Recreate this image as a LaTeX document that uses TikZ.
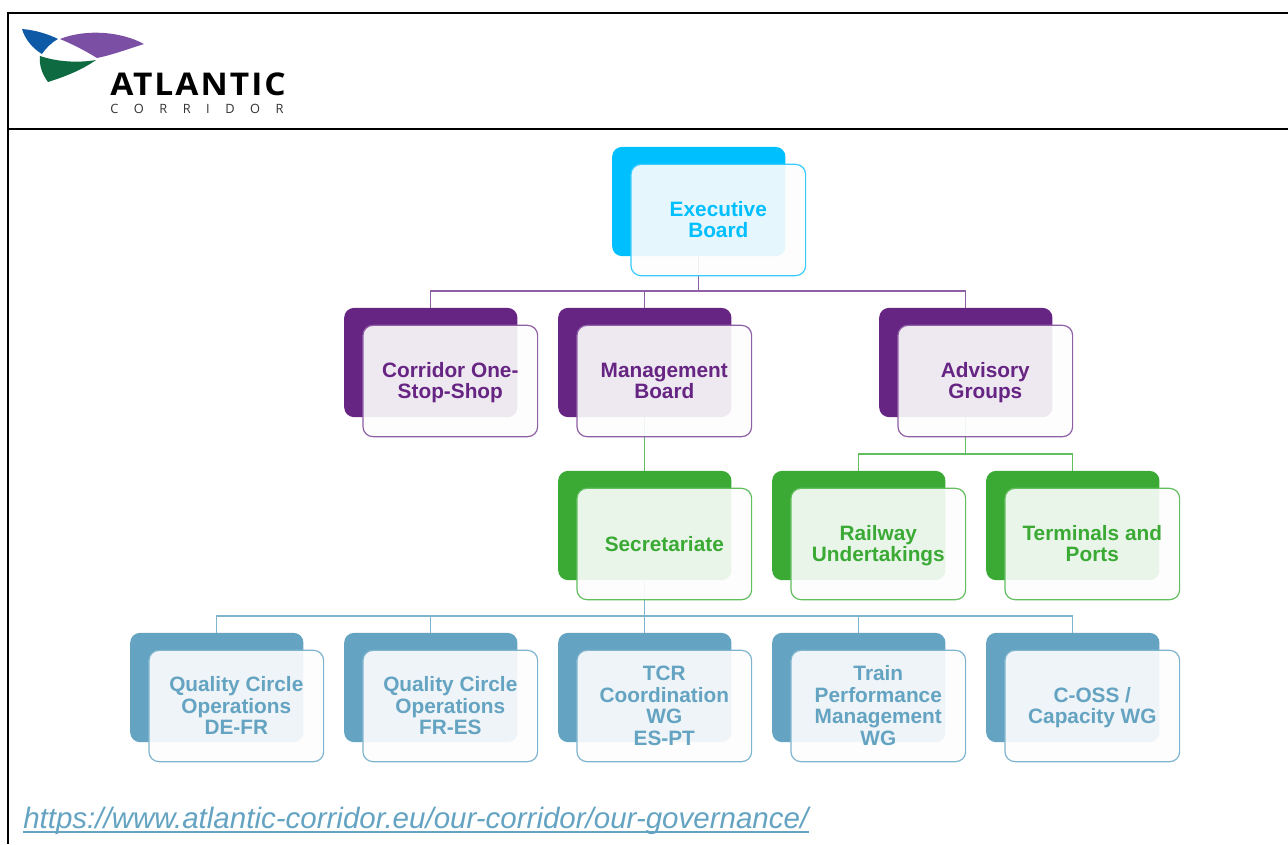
\documentclass[tikz,border=0pt]{standalone}
\usepackage{fontspec}
\setmainfont{Liberation Sans}
\newfontfamily\logofont{Open Sans}
\definecolor{cexec}{HTML}{00BFFF}
\definecolor{cpur}{HTML}{662483}
\definecolor{cgrn}{HTML}{3AAA35}
\definecolor{cblu}{HTML}{64A3C1}
\definecolor{lcexec}{HTML}{38CBFF}
\definecolor{lcpur}{HTML}{8F5FA6}
\definecolor{lcgrn}{HTML}{62BE5E}
\definecolor{lcblu}{HTML}{7FB4CF}
\definecolor{logoblue}{HTML}{0F5AA6}
\definecolor{logopur}{HTML}{7B4FA3}
\definecolor{logogrn}{HTML}{0E6A40}
\definecolor{paneltint}{HTML}{FDFDFD}
\tikzset{
  backbox/.style={fill=#1,draw=none,rounded corners=7.5pt,minimum width=130pt,minimum height=82pt,inner sep=0pt,outer sep=0pt},
  frontbox/.style={draw=l#1,fill=paneltint,fill opacity=.905,draw opacity=1,text opacity=1,text=#1,line width=.9pt,
    rounded corners=7.5pt,minimum width=131pt,minimum height=83.5pt,inner sep=0pt,outer sep=0pt,
    font=\bfseries\fontsize{15.6}{16.4}\selectfont,align=center},
  link/.style={draw=#1,line width=1pt},
  tableline/.style={draw=black,line width=1.1pt},
}
\newcommand{\backat}[4]{\node[backbox=#4] (#1B) at (#2+86.8,#3+54.5) {};}
\newcommand{\frontat}[5]{\node[frontbox=#4] (#1F) at (#2+106.3,#3+73) {\rule{0pt}{15.4pt}#5\strut};}
\begin{document}
\begin{tikzpicture}[x=.75pt,y=-.75pt]
\useasboundingbox (0,0) rectangle (1288,844);
% table frame
\draw[tableline] (1288,13) -- (8,13) -- (8,844);
\draw[tableline] (8,129) -- (1288,129);
% logo
\fill[logoblue] (22,29) .. controls (35,30) and (48,34) .. (58,39) .. controls (51,43) and (46,48) .. (42,54) .. controls (32,48) and (25,39) .. (22,29) -- cycle;
\fill[logopur] (60,39) .. controls (85,29) and (120,31) .. (144,44) .. controls (128,49) and (112,55) .. (97,58) .. controls (84,50) and (72,44) .. (60,39) -- cycle;
\fill[logogrn] (40,56) .. controls (58,62) and (78,63) .. (96,60) .. controls (82,70) and (64,77) .. (48,82) .. controls (42,74) and (39,65) .. (40,56) -- cycle;
\node[inner sep=0pt,anchor=base west] (logoname) at (110,95) {\scalebox{1.07}[1]{\logofont\bfseries\fontsize{23.5}{24}\selectfont\addfontfeature{LetterSpace=6}ATLANTIC}};
\node[inner sep=0pt,anchor=base west] (logosub) at (110,113) {\logofont\fontsize{9.6}{10}\selectfont\color{black!80}\makebox[130pt][s]{C\hfill O\hfill R\hfill R\hfill I\hfill D\hfill O\hfill R}};
% back boxes
\backat{exec}{612}{147}{cexec}
\backat{cs}{344}{308}{cpur}
\backat{mb}{558}{308}{cpur}
\backat{adv}{879}{308}{cpur}
\backat{sec}{558}{471}{cgrn}
\backat{ru}{772}{471}{cgrn}
\backat{tp}{986}{471}{cgrn}
\backat{qa}{130}{633}{cblu}
\backat{qb}{344}{633}{cblu}
\backat{tcr}{558}{633}{cblu}
\backat{tpm}{772}{633}{cblu}
\backat{cap}{986}{633}{cblu}
% connectors
\coordinate (busa) at (execB.south |- 0,291);
\coordinate (busb) at (advB.south |- 0,454);
\coordinate (busc) at (secB.south |- 0,616);
\draw[link=lcpur] (execB.south) -- (busa);
\draw[link=lcpur] (csB.north) |- (busa) -| (advB.north);
\draw[link=lcpur] (mbB.north) -- (mbB.north |- busa);
\draw[link=lcgrn] (mbB.south) -- (secB.north);
\draw[link=lcgrn] (advB.south) -- (busb);
\draw[link=lcgrn] (ruB.north) |- (busb) -| (tpB.north);
\draw[link=lcblu] (secB.south) -- (busc);
\draw[link=lcblu] (qaB.north) |- (busc) -| (capB.north);
\draw[link=lcblu] (qbB.north) -- (qbB.north |- busc);
\draw[link=lcblu] (tcrB.north) -- (tcrB.north |- busc);
\draw[link=lcblu] (tpmB.north) -- (tpmB.north |- busc);
% front boxes
\frontat{exec}{612}{147}{cexec}{Executive\\Board}
\frontat{cs}{344}{308}{cpur}{Corridor One-\\Stop-Shop}
\frontat{mb}{558}{308}{cpur}{Management\\Board}
\frontat{adv}{879}{308}{cpur}{Advisory\\Groups}
\frontat{sec}{558}{471}{cgrn}{Secretariate}
\frontat{ru}{772}{471}{cgrn}{Railway\\Undertakings}
\frontat{tp}{986}{471}{cgrn}{Terminals and\\Ports}
\frontat{qa}{130}{633}{cblu}{Quality Circle\\Operations\\DE-FR}
\frontat{qb}{344}{633}{cblu}{Quality Circle\\Operations\\FR-ES}
\frontat{tcr}{558}{633}{cblu}{TCR\\Coordination\\WG\\ES-PT}
\frontat{tpm}{772}{633}{cblu}{Train\\Performance\\Management\\WG}
\frontat{cap}{986}{633}{cblu}{C-OSS /\\Capacity WG}
% url
\node[inner sep=0pt,anchor=base west,text=cblu,font=\itshape\fontsize{22.13}{24}\selectfont] (url) at (23,828) {https://www.atlantic-corridor.eu/our-corridor/our-governance/};
\draw[draw=cblu,line width=1.6pt] ([yshift=-3pt]url.base west) -- ([yshift=-3pt]url.base east);
\end{tikzpicture}
\end{document}
